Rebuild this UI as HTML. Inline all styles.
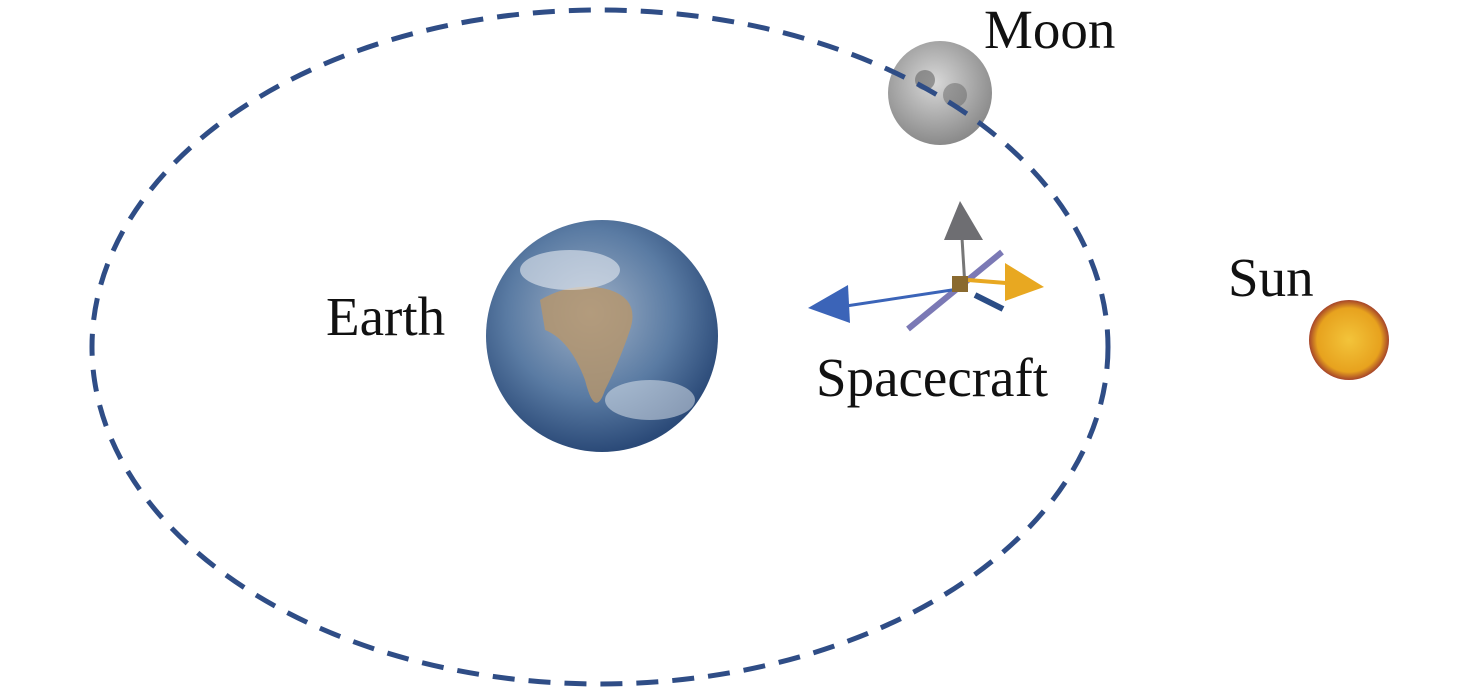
<!DOCTYPE html>
<html><head><style>
html,body{margin:0;padding:0;background:#fff;}
svg{display:block;}
text{font-family:"Liberation Serif",serif;fill:#111;}
</style></head><body>
<svg width="1476" height="692" viewBox="0 0 1476 692" xmlns="http://www.w3.org/2000/svg">
<defs>
<radialGradient id="earth" cx="45%" cy="40%" r="60%">
<stop offset="0" stop-color="#9fb0c6"/><stop offset="0.6" stop-color="#5a7ba3"/><stop offset="1" stop-color="#2b4a78"/>
</radialGradient>
<radialGradient id="moon" cx="45%" cy="40%" r="60%">
<stop offset="0" stop-color="#d8d8d8"/><stop offset="1" stop-color="#8a8a8a"/>
</radialGradient>
<radialGradient id="sun" cx="50%" cy="50%" r="50%">
<stop offset="0" stop-color="#f3c43a"/><stop offset="0.8" stop-color="#e7a21e"/><stop offset="1" stop-color="#a5442a"/>
</radialGradient>
</defs>
<circle cx="940" cy="93" r="52" fill="url(#moon)"/>
<circle cx="925" cy="80" r="10" fill="#666" opacity="0.6"/>
<circle cx="955" cy="95" r="12" fill="#666" opacity="0.5"/>
<ellipse cx="600" cy="347" rx="508" ry="337" fill="none" stroke="#2f4d86" stroke-width="5" stroke-dasharray="22,14"/>
<circle cx="602" cy="336" r="116" fill="url(#earth)"/>
<path d="M540 300 Q575 280 610 290 Q640 300 630 330 Q620 360 605 390 Q595 420 585 380 Q570 340 545 330 Z" fill="#b8966a" opacity="0.8"/>
<ellipse cx="570" cy="270" rx="50" ry="20" fill="#e6ebf2" opacity="0.6"/>
<ellipse cx="650" cy="400" rx="45" ry="20" fill="#e6ebf2" opacity="0.5"/>
<circle cx="1349" cy="340" r="40" fill="url(#sun)"/>
<line x1="1002" y1="252" x2="908" y2="329" stroke="#7b79b5" stroke-width="6"/>
<line x1="975" y1="295" x2="1003" y2="309" stroke="#2b4d86" stroke-width="6"/>
<line x1="965" y1="287" x2="962" y2="238" stroke="#777" stroke-width="3"/>
<polygon points="960,201 944,240 983,240" fill="#6e6e72"/>
<line x1="968" y1="280" x2="1006" y2="283" stroke="#e8a821" stroke-width="4"/>
<polygon points="1044,287 1005,263 1005,301" fill="#e8a821"/>
<line x1="965" y1="288" x2="846" y2="306" stroke="#3b64b8" stroke-width="3"/>
<polygon points="808,308 848,285 850,323" fill="#3b64b8"/>
<rect x="952" y="276" width="16" height="16" fill="#8a6a30"/>
<text x="984" y="48" font-size="55">Moon</text>
<text x="326" y="335" font-size="55">Earth</text>
<text x="1228" y="296" font-size="55">Sun</text>
<text x="816" y="396" font-size="55">Spacecraft</text>
</svg>
</body></html>
